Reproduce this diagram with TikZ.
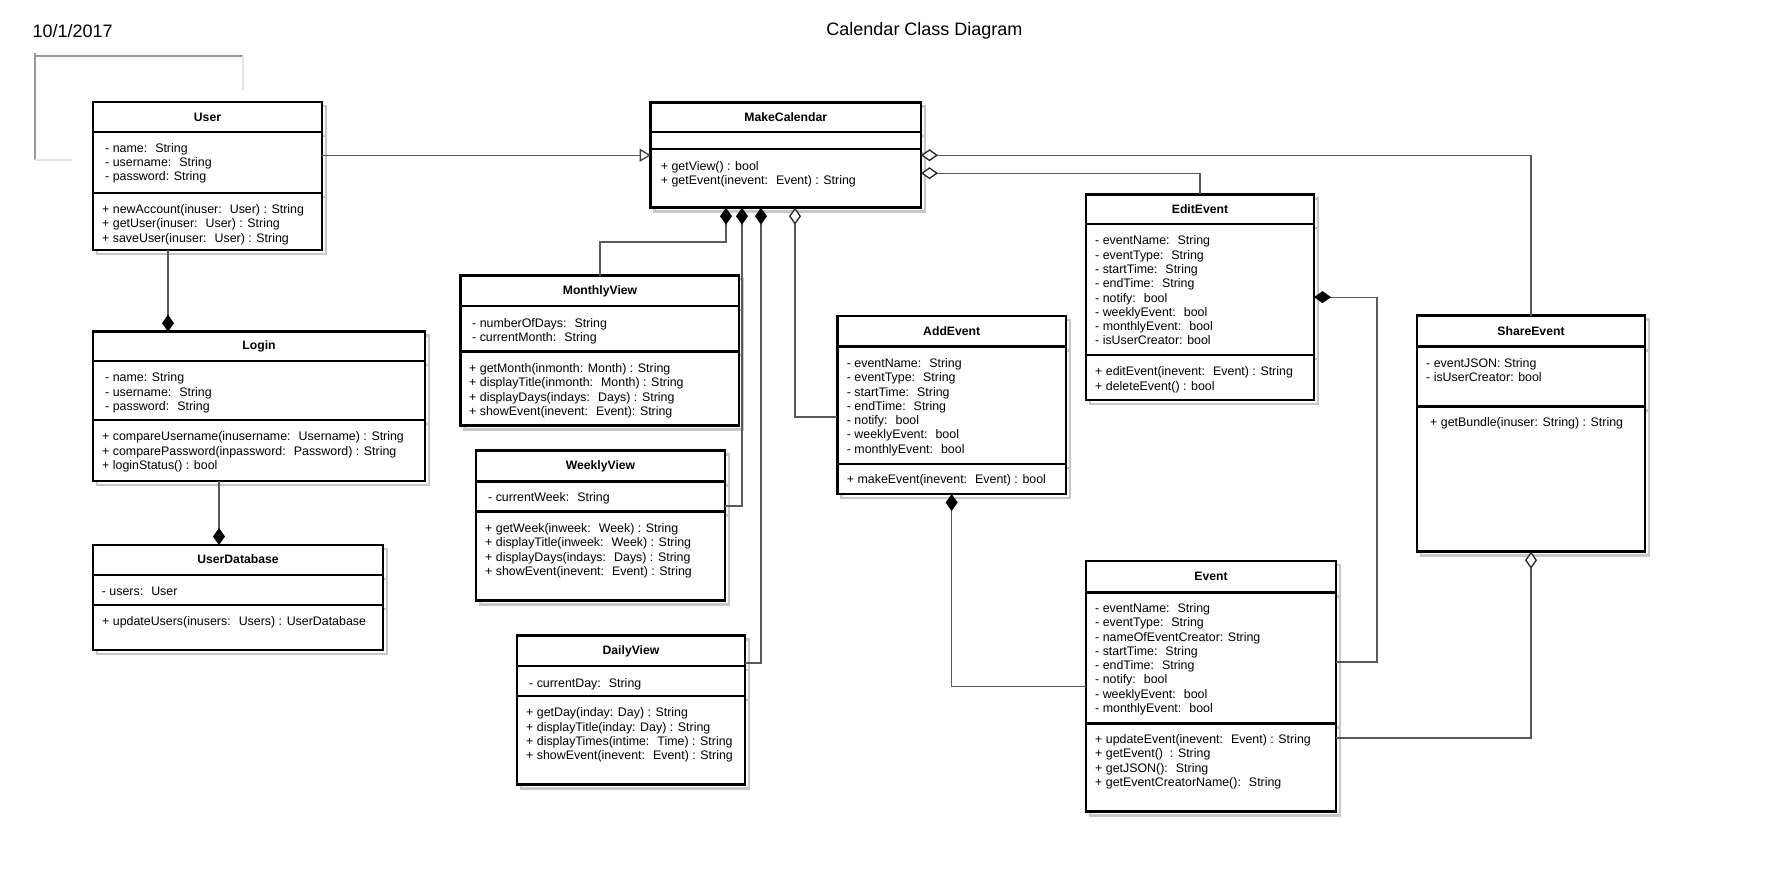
\documentclass[tikz,border=0pt]{standalone}
\usepackage{fontspec}
\setmainfont{Liberation Sans}
\usetikzlibrary{arrows.meta}

\begin{document}
\begin{tikzpicture}[x=1pt, y=-1pt,
  box/.style={draw, line width=2.6pt, fill=white, anchor=north west, inner sep=0pt, outer sep=0pt},
  shade/.style={draw=black!22, line width=2.6pt},
  bar/.style={line width=2.6pt},
  head/.style={font=\fontsize{12.2}{14}\selectfont\bfseries, inner sep=0pt, text height=9pt, text depth=2.6pt},
  txt/.style={anchor=north west, inner sep=0pt, align=left, font=\fontsize{12.4}{14.3}\selectfont},
  link/.style={draw=black!65, line width=1.3pt},
  comp/.style={link, -{Diamond[length=17pt, width=12pt, color=black]}},
  agg/.style={link, -{Diamond[length=17pt, width=12pt, color=black!85, fill=white]}},
  gen/.style={link, -{Triangle[length=11pt, width=13pt, color=black!75, fill=white]}}]

\useasboundingbox (0,0) rectangle (1780,883);

\node[anchor=west, font=\fontsize{18}{20}\selectfont] (date) at (29,31) {10/1/2017};
\node[font=\fontsize{18}{20}\selectfont] (title) at (924.5,31) {Calendar Class Diagram};

\draw[black!40, line width=1.3pt] (35,53) -- (35,160) (35,56) -- (243,56);
\draw[black!10, line width=1.3pt] (243,56) -- (243,90) (35,160) -- (72,160);

% User
\draw[shade, shift={(4,4)}] (93,102) rectangle (322,250) (93,132) -- (322,132) (93,193) -- (322,193);
\node[box, minimum width=229pt, minimum height=148pt] (user) at (93,102) {};
\draw[bar] (93,132) -- (322,132) (93,193) -- (322,193);
\node[head] (user-name) at (207.5,118) {User};
\node[txt] (user-attr) at (105,143) {- name:~ String\\- username:~ String\\- password: String};
\node[txt] (user-ops) at (102,204.3) {+ newAccount(inuser:~ User) : String\\+ getUser(inuser:~ User) : String\\+ saveUser(inuser:~ User) : String};

% Login
\draw[shade, shift={(4,4)}] (93,331.7) rectangle (425,481) (93,361) -- (425,361) (93,420) -- (425,420);
\node[box, minimum width=332pt, minimum height=149.3pt] (login) at (93,331.7) {};
\draw[bar] (93,361) -- (425,361) (93,420) -- (425,420);
\node[head] (login-name) at (259,346.5) {Login};
\node[txt] (login-attr) at (105,372.7) {- name: String\\- username:~ String\\- password:~ String};
\node[txt] (login-ops) at (102,431.7) {+ compareUsername(inusername:~ Username) : String\\+ comparePassword(inpassword:~ Password) : String\\+ loginStatus() : bool};

% UserDatabase
\draw[shade, shift={(4,4)}] (93,545) rectangle (383,650) (93,575) -- (383,575) (93,605) -- (383,605);
\node[box, minimum width=290pt, minimum height=105pt] (udb) at (93,545) {};
\draw[bar] (93,575) -- (383,575) (93,605) -- (383,605);
\node[head] (udb-name) at (238,560.5) {UserDatabase};
\node[txt] (udb-attr) at (101.7,586.7) {- users:~ User};
\node[txt] (udb-ops) at (102,616.7) {+ updateUsers(inusers:~ Users) : UserDatabase};

% MakeCalendar
\draw[shade, shift={(4,4)}] (650.7,102.7) rectangle (921,207.7) (650.7,132) -- (921,132) (650.7,149) -- (921,149);
\node[box, minimum width=270.3pt, minimum height=105pt] (mc) at (650.7,102.7) {};
\draw[bar] (650.7,132) -- (921,132) (650.7,149) -- (921,149);
\node[head] (mc-name) at (785.8,118.5) {MakeCalendar};
\node[txt] (mc-ops) at (660.7,161) {+ getView() : bool\\+ getEvent(inevent:~ Event) : String};

% MonthlyView
\draw[shade, shift={(4,4)}] (460.7,275.6) rectangle (739,425.5) (460.7,306) -- (739,306) (460.7,351.7) -- (739,351.7);
\node[box, minimum width=278.3pt, minimum height=149.9pt] (mv) at (460.7,275.6) {};
\draw[bar] (460.7,306) -- (739,306) (460.7,351.7) -- (739,351.7);
\node[head] (mv-name) at (600,291.5) {MonthlyView};
\node[txt] (mv-attr) at (472,318) {- numberOfDays:~ String\\- currentMonth:~ String};
\node[txt] (mv-ops) at (469,363.3) {+ getMonth(inmonth: Month) : String\\+ displayTitle(inmonth:~ Month) : String\\+ displayDays(indays:~ Days) : String\\+ showEvent(inevent:~ Event): String};

% WeeklyView
\draw[shade, shift={(4,4)}] (476,450.4) rectangle (725,600.3) (476,481.5) -- (725,481.5) (476,511.6) -- (725,511.6);
\node[box, minimum width=249pt, minimum height=149.9pt] (wv) at (476,450.4) {};
\draw[bar] (476,481.5) -- (725,481.5) (476,511.6) -- (725,511.6);
\node[head] (wv-name) at (600.5,466.5) {WeeklyView};
\node[txt] (wv-attr) at (488,492.8) {- currentWeek:~ String};
\node[txt] (wv-ops) at (485,523.3) {+ getWeek(inweek:~ Week) : String\\+ displayTitle(inweek:~ Week) : String\\+ displayDays(indays:~ Days) : String\\+ showEvent(inevent:~ Event) : String};

% DailyView
\draw[shade, shift={(4,4)}] (517,635.6) rectangle (745,784.4) (517,666) -- (745,666) (517,696.1) -- (745,696.1);
\node[box, minimum width=228pt, minimum height=148.8pt] (dv) at (517,635.6) {};
\draw[bar] (517,666) -- (745,666) (517,696.1) -- (745,696.1);
\node[head] (dv-name) at (631,651.5) {DailyView};
\node[txt] (dv-attr) at (529,678) {- currentDay:~ String};
\node[txt] (dv-ops) at (526,707.8) {+ getDay(inday: Day) : String\\+ displayTitle(inday: Day) : String\\+ displayTimes(intime:~ Time) : String\\+ showEvent(inevent:~ Event) : String};

% AddEvent
\draw[shade, shift={(4,4)}] (837.3,316) rectangle (1066,494) (837.3,346.7) -- (1066,346.7) (837.3,464) -- (1066,464);
\node[box, minimum width=228.7pt, minimum height=178pt] (ae) at (837.3,316) {};
\draw[bar] (837.3,346.7) -- (1066,346.7) (837.3,464) -- (1066,464);
\node[head] (ae-name) at (951.7,332) {AddEvent};
\node[txt] (ae-attr) at (846.7,358.3) {- eventName:~ String\\- eventType:~ String\\- startTime:~ String\\- endTime:~ String\\- notify:~ bool\\- weeklyEvent:~ bool\\- monthlyEvent:~ bool};
\node[txt] (ae-ops) at (846.7,474.3) {+ makeEvent(inevent:~ Event) : bool};

% EditEvent
\draw[shade, shift={(4,4)}] (1086,194.3) rectangle (1314,400) (1086,224) -- (1314,224) (1086,355) -- (1314,355);
\node[box, minimum width=228pt, minimum height=205.7pt] (ee) at (1086,194.3) {};
\draw[bar] (1086,224) -- (1314,224) (1086,355) -- (1314,355);
\node[head] (ee-name) at (1200,210) {EditEvent};
\node[txt] (ee-attr) at (1095,235.7) {- eventName:~ String\\- eventType:~ String\\- startTime:~ String\\- endTime:~ String\\- notify:~ bool\\- weeklyEvent:~ bool\\- monthlyEvent:~ bool\\- isUserCreator: bool};
\node[txt] (ee-ops) at (1095,366.7) {+ editEvent(inevent:~ Event) : String\\+ deleteEvent() : bool};

% ShareEvent
\draw[shade, shift={(4,4)}] (1417,315.7) rectangle (1645,551.7) (1417,346.7) -- (1645,346.7) (1417,406.7) -- (1645,406.7);
\node[box, minimum width=228pt, minimum height=236pt] (se) at (1417,315.7) {};
\draw[bar] (1417,346.7) -- (1645,346.7) (1417,406.7) -- (1645,406.7);
\node[head] (se-name) at (1531,332) {ShareEvent};
\node[txt] (se-attr) at (1426,358.3) {- eventJSON: String\\- isUserCreator: bool};
\node[txt] (se-ops) at (1430,417.7) {+ getBundle(inuser: String) : String};

% Event
\draw[shade, shift={(4,4)}] (1086,561) rectangle (1336,811.7) (1086,592.3) -- (1336,592.3) (1086,723.3) -- (1336,723.3);
\node[box, minimum width=250pt, minimum height=250.7pt] (ev) at (1086,561) {};
\draw[bar] (1086,592.3) -- (1336,592.3) (1086,723.3) -- (1336,723.3);
\node[head] (ev-name) at (1211,577.5) {Event};
\node[txt] (ev-attr) at (1095,603.3) {- eventName:~ String\\- eventType:~ String\\- nameOfEventCreator: String\\- startTime:~ String\\- endTime:~ String\\- notify:~ bool\\- weeklyEvent:~ bool\\- monthlyEvent:~ bool};
\node[txt] (ev-ops) at (1095,734.3) {+ updateEvent(inevent:~ Event) : String\\+ getEvent()~ : String\\+ getJSON():~ String\\+ getEventCreatorName():~ String};

% connectors
\draw[gen] (user.east |- mc.west) -- (mc.west);
\draw[agg] (se.north) |- (mc.east);
\draw[agg] (ee.north) |- ([yshift=-18pt]mc.east);
\draw[comp] (mv.north) |- (726,242) -- (mc.south -| 726,0);
\draw[comp] (wv.east |- 0,506) -| (mc.south -| 742,0);
\draw[comp] (dv.east |- 0,663) -| (mc.south -| 761,0);
\draw[agg] (ae.west |- 0,417) -| (mc.south -| 795,0);
\draw[comp] (user.south -| 168,0) -- (login.north -| 168,0);
\draw[comp] (login.south -| 219,0) -- (udb.north -| 219,0);
\draw[comp] (ev.west) -| (ae.south);
\draw[comp] (ev.east |- 0,662) -| (ee.east -| 1377,0) -- (ee.east);
\draw[agg] (ev.east |- 0,738) -| (se.south);

\end{tikzpicture}
\end{document}
